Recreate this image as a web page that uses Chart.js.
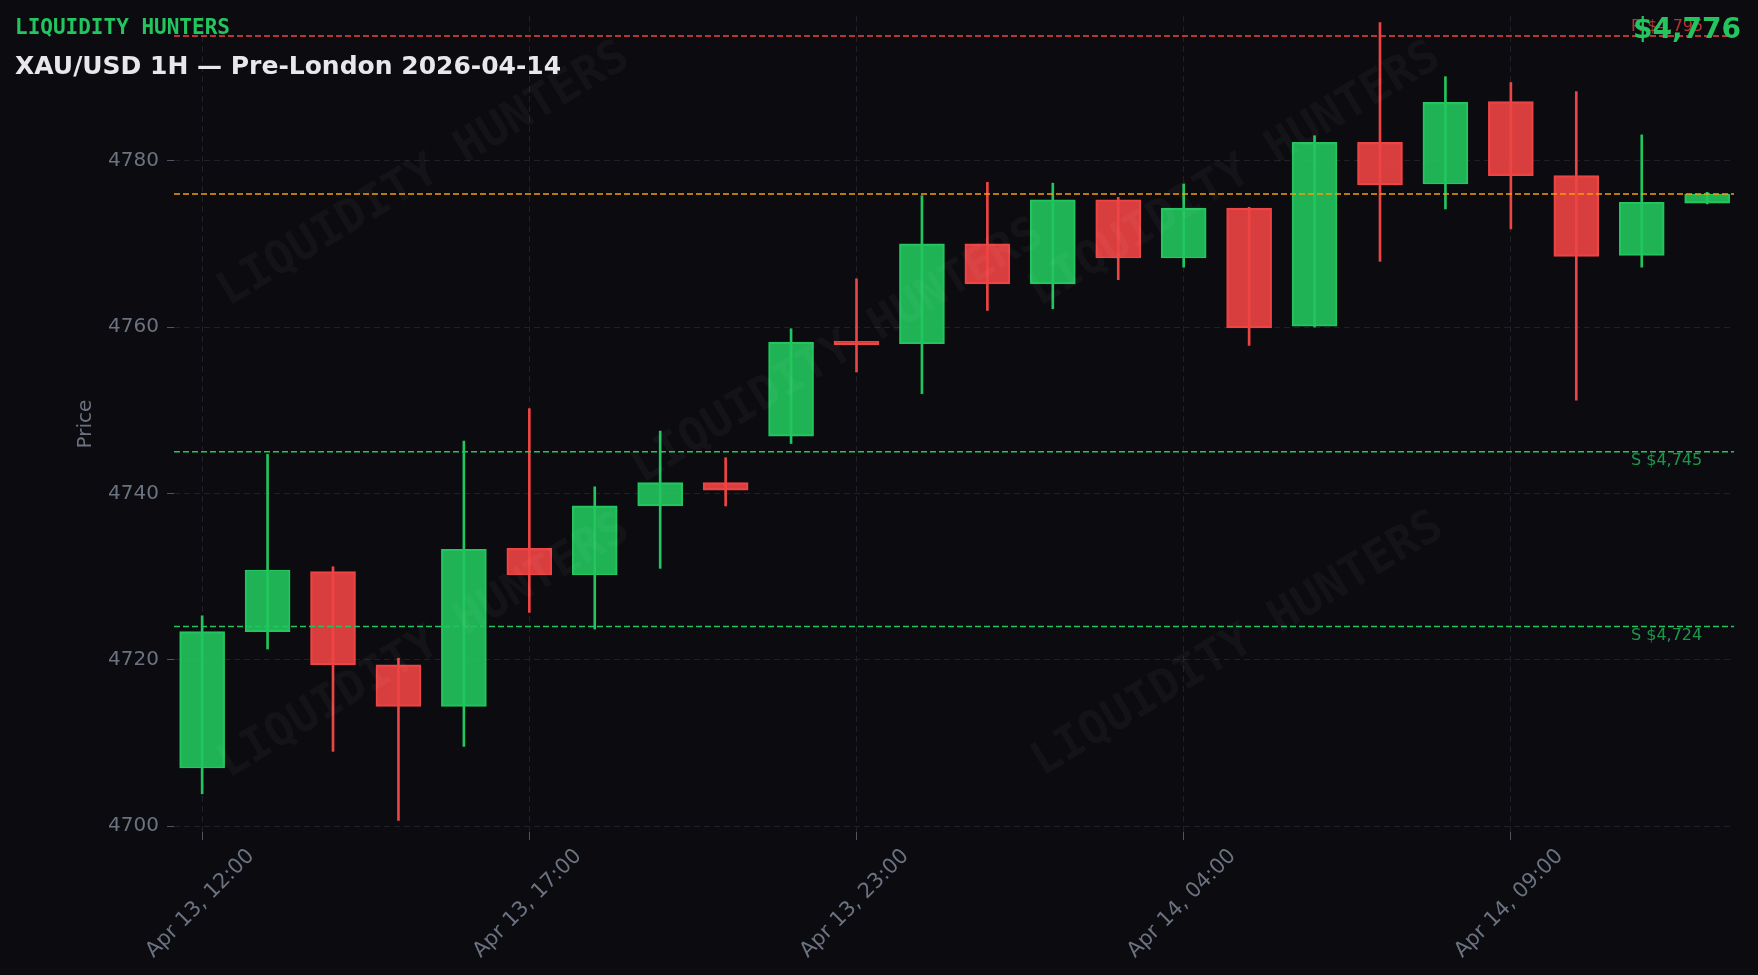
<!DOCTYPE html>
<html>
<head>
<meta charset="utf-8">
<script src="https://cdn.jsdelivr.net/npm/chart.js@4.4.1/dist/chart.umd.min.js"></script>
<style>
  html, body { margin: 0; padding: 0; background: #0b0b10; }
</style>
</head>
<body>
<canvas id="chart" width="1758" height="975"></canvas>
<script>
// hourly candles, XAU/USD (22:00 bar missing - daily break)
const times = [
  "Apr 13, 12:00", "Apr 13, 13:00", "Apr 13, 14:00", "Apr 13, 15:00", "Apr 13, 16:00",
  "Apr 13, 17:00", "Apr 13, 18:00", "Apr 13, 19:00", "Apr 13, 20:00", "Apr 13, 21:00",
  "Apr 13, 23:00", "Apr 14, 00:00", "Apr 14, 01:00", "Apr 14, 02:00", "Apr 14, 03:00",
  "Apr 14, 04:00", "Apr 14, 05:00", "Apr 14, 06:00", "Apr 14, 07:00", "Apr 14, 08:00",
  "Apr 14, 09:00", "Apr 14, 10:00", "Apr 14, 11:00", "Apr 14, 12:00"
];
const opens  = [4707.0, 4723.4, 4730.6, 4719.4, 4714.4, 4733.4, 4730.2, 4738.5, 4741.3, 4746.9,
                4758.3, 4758.0, 4770.0, 4765.2, 4775.3, 4768.3, 4774.3, 4760.1, 4782.2, 4777.2,
                4787.1, 4778.2, 4768.6, 4774.9];
const highs  = [4725.3, 4744.7, 4731.2, 4720.2, 4746.3, 4750.2, 4740.8, 4747.5, 4744.3, 4759.8,
                4765.8, 4775.8, 4777.4, 4777.3, 4775.6, 4777.2, 4774.4, 4783.0, 4796.6, 4790.1,
                4789.4, 4788.3, 4783.1, 4776.2];
const lows   = [4703.9, 4721.3, 4709.0, 4700.7, 4709.6, 4725.7, 4723.7, 4731.0, 4738.5, 4746.0,
                4754.6, 4752.0, 4762.0, 4762.2, 4765.7, 4767.2, 4757.8, 4760.0, 4767.9, 4774.2,
                4771.8, 4751.2, 4767.2, 4774.8];
const closes = [4723.4, 4730.8, 4719.4, 4714.4, 4733.3, 4730.2, 4738.5, 4741.3, 4740.4, 4758.2,
                4757.9, 4770.0, 4765.2, 4775.3, 4768.3, 4774.3, 4759.9, 4782.2, 4777.1, 4787.0,
                4778.2, 4768.5, 4775.0, 4776.0];

const tickIndex = [0, 5, 10, 15, 20];
const priceTicks = [4700, 4720, 4740, 4760, 4780];

const resistance = [4795];
const supports = [4745, 4724];
const lastPrice = 4776;

const UP = "#22c55e";
const DOWN = "#ef4444";
const UP_FILL = "rgba(34,197,94,0.9)";
const DOWN_FILL = "rgba(239,68,68,0.9)";
const BG = "#0b0b10";
const TICK = "#6b7280";

const idx = times.map((t, i) => i);
const isUp = idx.map(i => closes[i] >= opens[i]);

const fmt = v => "$" + v.toLocaleString("en-US");

const overlay = {
  id: "overlay",
  beforeDraw(chart) {
    const ctx = chart.ctx;
    ctx.save();
    ctx.fillStyle = BG;
    ctx.fillRect(0, 0, chart.width, chart.height);
    ctx.restore();
  },
  afterDatasetsDraw(chart) {
    const { ctx, chartArea: a, scales: { y } } = chart;

    function level(v, color) {
      const py = y.getPixelForValue(v);
      ctx.save();
      ctx.strokeStyle = color;
      ctx.lineWidth = 1.5;
      ctx.setLineDash([6, 3]);
      ctx.beginPath();
      ctx.moveTo(a.left, py);
      ctx.lineTo(a.right, py);
      ctx.stroke();
      ctx.restore();
      return py;
    }

    ctx.save();
    ctx.font = '16px "DejaVu Sans"';
    ctx.textAlign = "left";

    resistance.forEach(v => {
      const py = level(v, DOWN);
      ctx.fillStyle = "rgba(239,68,68,0.75)";
      ctx.textBaseline = "bottom";
      ctx.fillText("R " + fmt(v), a.right - 103, py - 1);
    });
    level(lastPrice, "#f59e0b");
    supports.forEach(v => {
      const py = level(v, UP);
      ctx.fillStyle = "rgba(34,197,94,0.75)";
      ctx.textBaseline = "top";
      ctx.fillText("S " + fmt(v), a.right - 103, py + 1);
    });
    ctx.restore();

    // watermark
    const marks = [[424, 175], [838, 352], [1235, 175], [424, 647], [1238, 645]];
    ctx.save();
    ctx.font = 'bold 46px "DejaVu Sans Mono"';
    ctx.fillStyle = "rgba(255,255,255,0.035)";
    ctx.textAlign = "center";
    ctx.textBaseline = "middle";
    marks.forEach(([mx, my]) => {
      ctx.save();
      ctx.translate(mx, my);
      ctx.rotate(-31 * Math.PI / 180);
      ctx.fillText("LIQUIDITY HUNTERS", 0, 0);
      ctx.restore();
    });
    ctx.restore();
  },
  afterDraw(chart) {
    const ctx = chart.ctx;
    ctx.save();
    ctx.textBaseline = "alphabetic";
    ctx.textAlign = "left";
    ctx.fillStyle = UP;
    ctx.font = 'bold 21px "DejaVu Sans Mono"';
    ctx.fillText("LIQUIDITY HUNTERS", 15, 34);
    ctx.fillStyle = "#e8e8ec";
    ctx.font = 'bold 25px "DejaVu Sans"';
    ctx.fillText("XAU/USD 1H \u2014 Pre-London 2026-04-14", 15, 74);
    ctx.textAlign = "right";
    ctx.fillStyle = UP;
    ctx.font = 'bold 28px "DejaVu Sans"';
    ctx.fillText(fmt(lastPrice), 1741, 38);
    ctx.restore();
  }
};

const ctx = document.getElementById("chart").getContext("2d");

new Chart(ctx, {
  type: "bar",
  data: {
    datasets: [
      {
        label: "wick",
        data: idx.map(i => ({ x: i, y: [lows[i], highs[i]] })),
        backgroundColor: idx.map(i => isUp[i] ? UP : DOWN),
        barThickness: 2,
        order: 2
      },
      {
        label: "body",
        data: idx.map(i => ({ x: i, y: [opens[i], closes[i]] })),
        backgroundColor: idx.map(i => isUp[i] ? UP_FILL : DOWN_FILL),
        borderColor: idx.map(i => isUp[i] ? UP : DOWN),
        borderWidth: 1.5,
        borderSkipped: false,
        barThickness: 45,
        order: 1
      }
    ]
  },
  options: {
    responsive: false,
    animation: false,
    layout: { padding: { top: 16, right: 24, bottom: 0, left: 0 } },
    datasets: { bar: { grouped: false } },
    plugins: {
      legend: { display: false },
      tooltip: { enabled: false }
    },
    scales: {
      x: {
        type: "linear",
        min: -0.43,
        max: 23.41,
        offset: false,
        afterBuildTicks: s => { s.ticks = tickIndex.map(v => ({ value: v })); },
        afterFit: s => { s.height = 975 - 832; },
        ticks: {
          callback: v => times[v],
          autoSkip: false,
          minRotation: 45,
          maxRotation: 45,
          color: TICK,
          padding: 4,
          labelOffset: 49,
          font: { family: "DejaVu Sans", size: 21 }
        },
        grid: { offset: false, color: "#1f2029", tickColor: "#4b5563", tickLength: 8, tickBorderDash: [] },
        border: { display: false, dash: [6, 4] }
      },
      y: {
        min: 4699.31,
        max: 4797.39,
        afterBuildTicks: s => { s.ticks = priceTicks.map(v => ({ value: v })); },
        afterFit: s => { s.width = 174; s.paddingTop = 0; s.paddingBottom = 0; },
        ticks: {
          callback: v => String(v),
          color: TICK,
          padding: 8,
          font: { family: "DejaVu Sans", size: 20 }
        },
        grid: { color: "#1f2029", tickColor: "#4b5563", tickLength: 7, tickBorderDash: [] },
        border: { display: false, dash: [6, 4] },
        title: {
          display: true,
          text: "Price",
          color: TICK,
          font: { family: "DejaVu Sans", size: 20 },
          padding: { top: 74, bottom: 0 }
        }
      }
    }
  },
  plugins: [overlay]
});
</script>
</body>
</html>
